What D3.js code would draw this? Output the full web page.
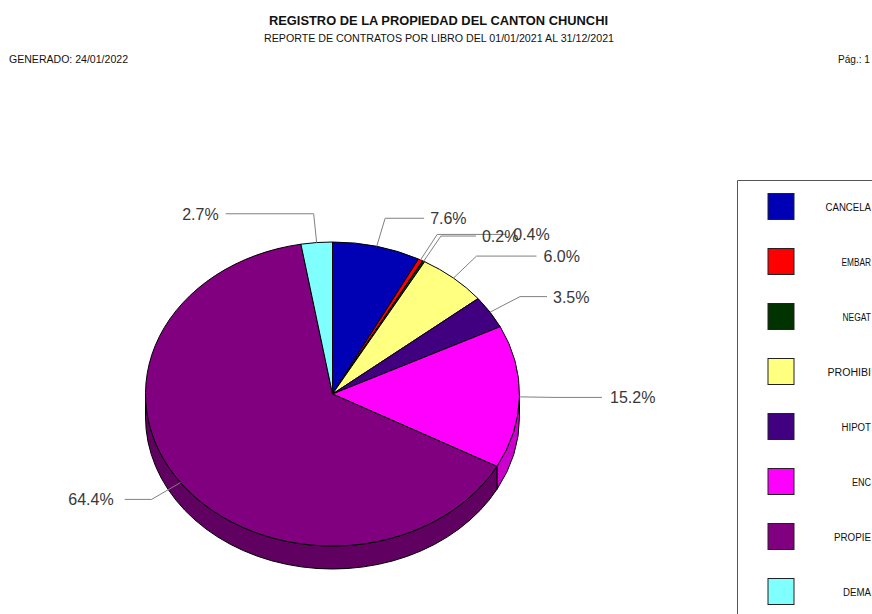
<!DOCTYPE html>
<meta charset="utf-8">
<style>
    body { margin: 0; background: #fff; overflow: hidden; }
    text { font-family: "Liberation Sans", Arial, sans-serif; }
    .slice { stroke: #000; stroke-width: 1px; vector-effect: non-scaling-stroke; stroke-linejoin: round; }
    .wall { stroke: #000; stroke-width: 1px; }
    .leader { fill: none; stroke: #808080; stroke-width: 1px; }
    .pct { font-size: 16px; fill: #383838; }
    .legend-label { font-size: 10px; fill: #111; }
    .swatch { stroke: #222; stroke-width: 1px; }
</style>

<body>
    <script src="https://d3js.org/d3.v7.min.js"></script>
    <script>
        // values, same order as the legend
        var categories = ["CANCELA", "EMBAR", "NEGAT", "PROHIBI", "HIPOT", "ENC", "PROPIE", "DEMA"];
        var percents = [7.6, 0.4, 0.2, 6.0, 3.5, 15.2, 64.4, 2.7];
        var colors = ["#0000b4", "#ff0000", "#003300", "#ffff80", "#400080", "#ff00ff", "#800080", "#80ffff"];
        var wallColors = ["#000090", "#cc0000", "#002800", "#cccc66", "#330066", "#cc00cc", "#600060", "#66cccc"];

        var svg = d3.select("body").append("svg")
            .attr("width", 872)
            .attr("height", 614);

        // headers
        function header(txt, x, y, size, len, bold) {
            svg.append("text")
                .attr("x", x)
                .attr("y", y)
                .attr("font-size", size)
                .attr("font-weight", bold ? "bold" : "normal")
                .attr("fill", "#111")
                .attr("textLength", len)
                .attr("lengthAdjust", "spacingAndGlyphs")
                .text(txt);
        }
        header("REGISTRO DE LA PROPIEDAD DEL CANTON CHUNCHI", 269, 25, 13, 339, true);
        header("REPORTE DE CONTRATOS POR LIBRO DEL 01/01/2021 AL 31/12/2021", 264, 42, 10, 350, false);
        header("GENERADO: 24/01/2022", 9, 63, 10, 119, false);
        header("Pág.: 1", 838, 63, 10, 32, false);

        // pie geometry
        var cx = 332.5, cy = 394, rx = 187, ry = 152, depth = 23;

        var pie = d3.pie().sort(null)(percents);

        function px(a, k) { return cx + rx * k * Math.sin(a); }
        function py(a, k) { return cy - ry * k * Math.cos(a); }

        // side wall, only the front half of the disc shows
        var frontFrom = Math.PI / 2, frontTo = 3 * Math.PI / 2;
        var walls = pie.filter(function(d) {
            return d.endAngle > frontFrom && d.startAngle < frontTo;
        });

        svg.selectAll(".wall")
            .data(walls)
            .enter().append("path")
            .attr("class", "wall")
            .attr("fill", function(d) { return wallColors[d.index]; })
            .attr("d", function(d) {
                var a0 = Math.max(d.startAngle, frontFrom),
                    a1 = Math.min(d.endAngle, frontTo);
                return "M" + px(a0, 1) + "," + py(a0, 1) +
                    "L" + px(a0, 1) + "," + (py(a0, 1) + depth) +
                    "A" + rx + "," + ry + " 0 0 1 " + px(a1, 1) + "," + (py(a1, 1) + depth) +
                    "L" + px(a1, 1) + "," + py(a1, 1) +
                    "A" + rx + "," + ry + " 0 0 0 " + px(a0, 1) + "," + py(a0, 1) + "Z";
            });

        // top of the disc: circular arcs squashed to an ellipse
        var arc = d3.arc().innerRadius(0).outerRadius(rx);

        svg.append("g")
            .attr("transform", "translate(" + cx + "," + cy + ") scale(1," + (ry / rx) + ")")
            .selectAll(".slice")
            .data(pie)
            .enter().append("path")
            .attr("class", "slice")
            .attr("fill", function(d) { return colors[d.index]; })
            .attr("d", arc);

        // leader lines and labels
        var elbowAt = 1.19;
        var leaderRun = [39, 69, 35, 60, 27, 47, 27, 88];
        var labelGap = [6, 7, 6, 7, 6, 8, 11, 7];

        function midAngle(d) { return (d.startAngle + d.endAngle) / 2; }
        function side(d) { return midAngle(d) < Math.PI ? 1 : -1; }
        function runEnd(d) { return px(midAngle(d), elbowAt) + side(d) * leaderRun[d.index]; }

        svg.selectAll(".leader")
            .data(pie)
            .enter().append("path")
            .attr("class", "leader")
            .attr("d", function(d) {
                var a = midAngle(d);
                return "M" + px(a, 1) + "," + py(a, 1) +
                    "L" + px(a, elbowAt) + "," + py(a, elbowAt) +
                    "L" + runEnd(d) + "," + py(a, elbowAt);
            });

        svg.selectAll(".pct")
            .data(pie)
            .enter().append("text")
            .attr("class", "pct")
            .attr("x", function(d) { return runEnd(d) + side(d) * labelGap[d.index]; })
            .attr("y", function(d) { return py(midAngle(d), elbowAt) + 6; })
            .attr("text-anchor", function(d) { return side(d) > 0 ? "start" : "end"; })
            .text(function(d) { return d.value.toFixed(1) + "%"; });

        // legend, its box runs off the right and bottom of the page
        svg.append("path")
            .attr("d", "M737.5,614V180.5H872")
            .attr("fill", "none")
            .attr("stroke", "#555");

        var legendY = d3.scalePoint().domain(categories).range([206.5, 591.5]);
        var labelX = [825.5, 841.5, 842.5, 827.5, 841.5, 852, 834, 843];

        svg.selectAll(".swatch")
            .data(categories)
            .enter().append("rect")
            .attr("class", "swatch")
            .attr("x", 768)
            .attr("y", function(d) { return legendY(d) - 13; })
            .attr("width", 26)
            .attr("height", 26)
            .attr("fill", function(d, i) { return colors[i]; });

        svg.selectAll(".legend-label")
            .data(categories)
            .enter().append("text")
            .attr("class", "legend-label")
            .attr("x", function(d, i) { return labelX[i]; })
            .attr("y", function(d) { return legendY(d) + 4; })
            .attr("textLength", function(d, i) { return 871 - labelX[i]; })
            .attr("lengthAdjust", "spacingAndGlyphs")
            .text(function(d) { return d; });
    </script>
</body>
